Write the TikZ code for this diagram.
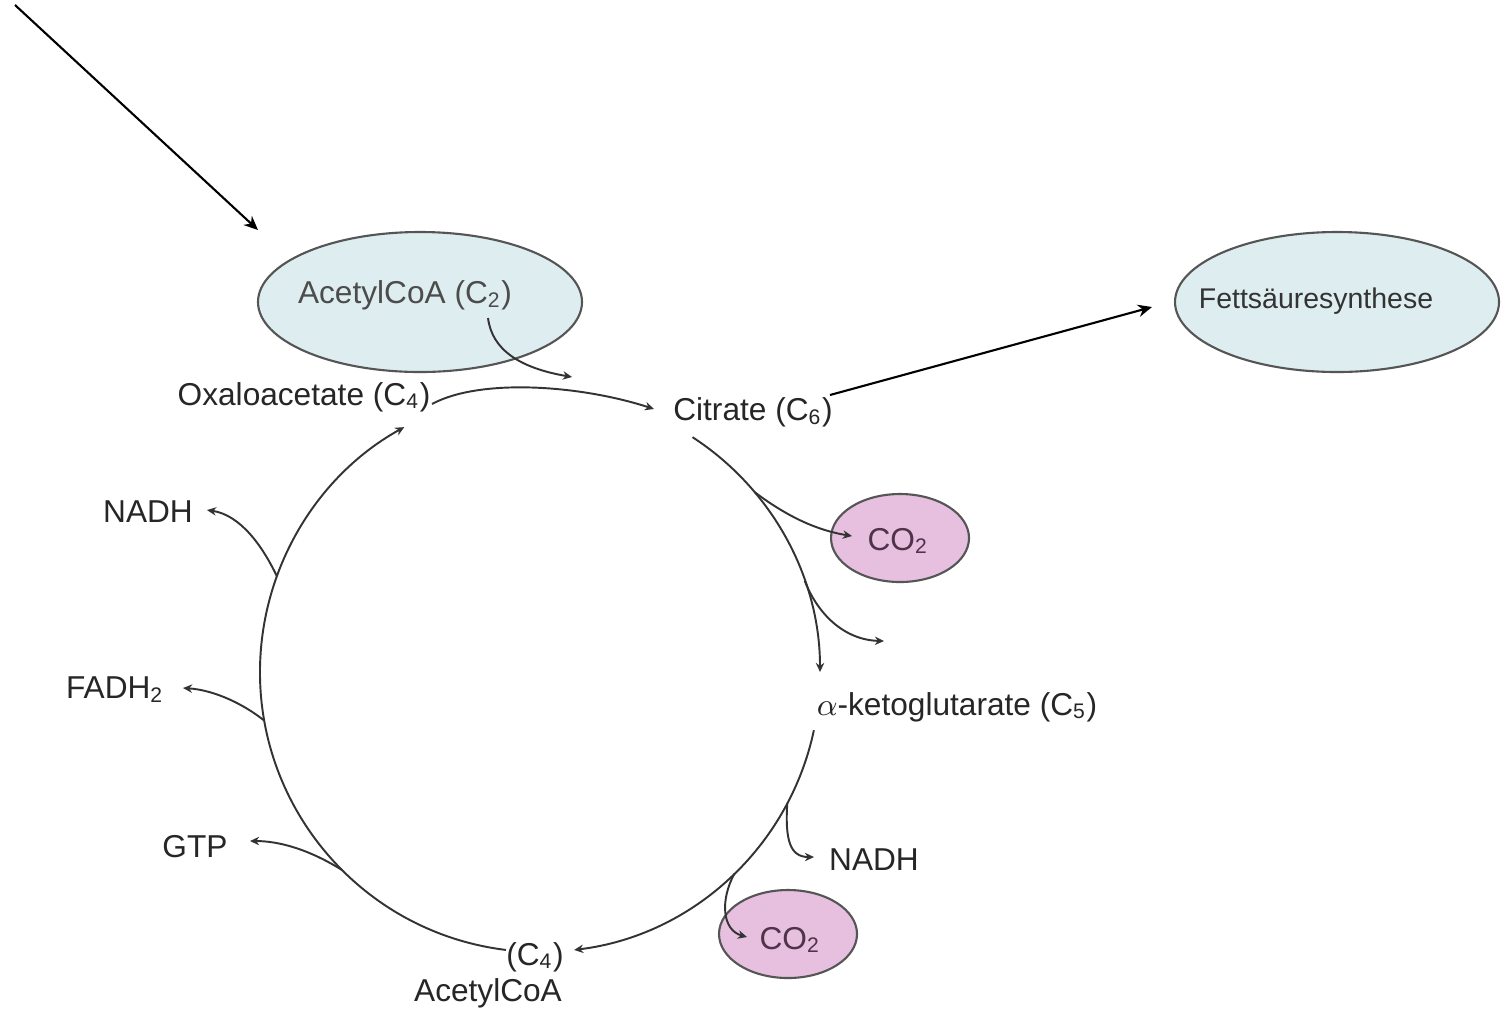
\documentclass[tikz,border=0pt]{standalone}
\usepackage{fontspec}
\setmainfont{Liberation Sans}
\usetikzlibrary{arrows.meta,shapes.geometric,calc}
\definecolor{ellblue}{RGB}{222,238,240}
\definecolor{ellpink}{RGB}{230,192,222}
\definecolor{edgegray}{RGB}{85,85,85}
\definecolor{cotext}{RGB}{80,50,75}
\begin{document}
\begin{tikzpicture}[x=0.1mm,y=-0.1mm,
  lab/.style={font=\fontsize{9}{11}\selectfont, inner sep=0pt, text=black!85},
  bigell/.style={ellipse, draw=edgegray, line width=0.6pt, fill=ellblue, minimum width=32.4mm, minimum height=14mm, inner sep=0pt},
  coell/.style={ellipse, draw=edgegray, line width=0.6pt, fill=ellpink, minimum width=13.8mm, minimum height=8.8mm, inner sep=0pt},
  cyc/.style={line width=0.55pt, draw=black!80, -{Stealth[length=2.6pt,width=2.4pt]}},
  bigarrow/.style={line width=0.6pt, draw=black, -{Stealth[length=4pt,width=3.5pt]}}
]
\useasboundingbox[fill=white] (0,0) rectangle (1501,1012);

% ellipses
\node[bigell] (acetyl) at (420,302) {};
\node[lab, text=black!70] (acetyltxt) at (405,295) {AcetylCoA (C\textsubscript{2})};
\node[bigell] (fett) at (1337,302) {};
\node[font=\fontsize{8.1}{10}\selectfont, inner sep=0pt, text=black!80] (fetttxt) at (1316,301) {Fettsäuresynthese};
\node[coell] (co2a) at (900,538) {};
\node[lab, text=cotext] (co2atxt) at (898,541) {CO\textsubscript{2}};
\node[coell] (co2b) at (788,934) {};
\node[lab, text=cotext] (co2btxt) at (790,940) {CO\textsubscript{2}};

% labels
\node[lab] (ox) at (304,397) {Oxaloacetate (C\textsubscript{4})};
\node[lab] (cit) at (753,412) {Citrate (C\textsubscript{6})};
\node[lab] (ak) at (957,707) {$\alpha$-ketoglutarate (C\textsubscript{5})};
\node[lab] (n1) at (148,512) {NADH};
\node[lab] (fad) at (115,690) {FADH\textsubscript{2}};
\node[lab] (gtp) at (195,847) {GTP};
\node[lab] (c4) at (535,957) {(C\textsubscript{4})};
\node[lab] (acoa2) at (488,993) {AcetylCoA};
\node[lab] (n2) at (874,860) {NADH};

% coordinates
\coordinate (cen) at (540,672);
\coordinate (topStart) at (15,5);
\coordinate (topEnd) at (258,230);
\coordinate (fettEnd) at (1152,307);
\coordinate (citNE) at (830,395);
\coordinate (oxR) at (432,404);
\coordinate (citIn) at (654,409);
\coordinate (acStart) at (488,318);
\coordinate (acIn) at (572,377);
\coordinate (citOut) at ($(cen)+(-57:280)$);
\coordinate (jCa) at ($(cen)+(-40:280)$);
\coordinate (jB) at ($(cen)+(-19:280)$);
\coordinate (coaIn) at (852,536);
\coordinate (freeEnd) at (884,641);
\coordinate (akOut) at ($(cen)+(12:280)$);
\coordinate (jN2) at ($(cen)+(28:280)$);
\coordinate (jCb) at ($(cen)+(46:280)$);
\coordinate (n2In) at (814,857);
\coordinate (cobIn) at (747,937);
\coordinate (c4Out) at ($(cen)+(97:280)$);
\coordinate (jG) at ($(cen)+(135:280)$);
\coordinate (jF) at ($(cen)+(170:280)$);
\coordinate (jN1) at ($(cen)+(200:280)$);
\coordinate (gtpIn) at (250,841);
\coordinate (fadIn) at (183,688);
\coordinate (n1In) at (207,510);

% big arrows
\draw[bigarrow] (topStart) -- (topEnd);
\draw[bigarrow] (citNE) -- (fettEnd);

% cycle
\draw[cyc] (oxR) .. controls (480,378) and (580,385) .. (citIn);
\draw[cyc] (acStart) .. controls (492,350) and (520,368) .. (acIn);
\draw[cyc] (citOut) arc[start angle=-57, end angle=0, radius=280];
\draw[cyc] (jCa) .. controls (785,515) and (815,530) .. (coaIn);
\draw[cyc] (jB) .. controls (818,615) and (845,640) .. (freeEnd);
\draw[cyc] (akOut) arc[start angle=12, end angle=83, radius=280];
\draw[cyc] (jN2) .. controls (785,840) and (790,857) .. (n2In);
\draw[cyc] (jCb) .. controls (720,900) and (722,930) .. (cobIn);
\draw[cyc] (c4Out) arc[start angle=97, end angle=241, radius=280];
\draw[cyc] (jG) .. controls (310,850) and (280,841) .. (gtpIn);
\draw[cyc] (jF) .. controls (245,705) and (215,690) .. (fadIn);
\draw[cyc] (jN1) .. controls (262,545) and (240,515) .. (n1In);
\end{tikzpicture}
\end{document}
